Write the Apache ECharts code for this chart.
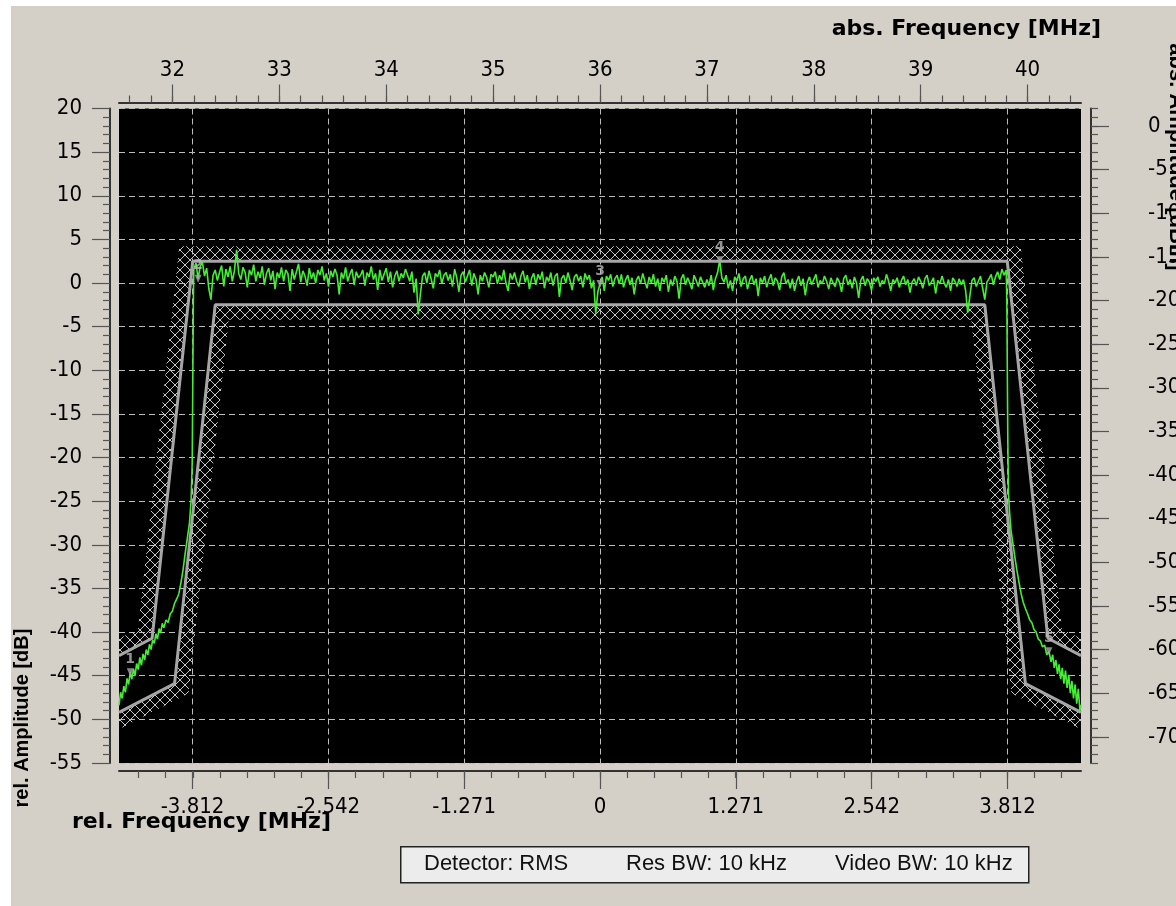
<!DOCTYPE html>
<html><head><meta charset="utf-8">
<script src="https://cdn.jsdelivr.net/npm/echarts@6/dist/echarts.min.js"></script>
<style>html,body{margin:0;padding:0;background:#d4d0c8;} #chart{width:1176px;height:906px;}</style>
</head><body><div id="chart"></div>
<script>
// ---------------- axis ranges & ticks ----------------
const relFreqRange = [-4.5, 4.5];          // MHz, bottom axis
const absFreqRange = [31.5, 40.5];         // MHz, top axis
const relAmpRange  = [-55, 20];            // dB, left axis
const absAmpRange  = [-73, 2];             // dBm, right axis

const relFreqTicks  = [-3.812, -2.542, -1.271, 0, 1.271, 2.542, 3.812];
const relFreqLabels = ['-3.812', '-2.542', '-1.271', '0', '1.271', '2.542', '3.812'];
const absFreqTicks  = [32, 33, 34, 35, 36, 37, 38, 39, 40];
const absFreqLabels = ['32', '33', '34', '35', '36', '37', '38', '39', '40'];
const absAmpTicks   = [-70, -65, -60, -55, -50, -45, -40, -35, -30, -25, -20, -15, -10, -5, 0];

// ---------------- tolerance masks (rel. MHz, dB) ----------------
const upperMaskFreq  = [-4.5, -4.19, -3.81, 3.81, 4.19, 4.5];
const upperMaskLevel = [-42.7, -40.7, 2.5, 2.5, -40.7, -42.7];
const lowerMaskFreq  = [-4.5, -3.98, -3.6, 3.6, 3.98, 4.5];
const lowerMaskLevel = [-49.2, -45.9, -2.5, -2.5, -45.9, -49.2];

// ---------------- measured trace (rel. MHz, dB) ----------------
const leftSkirt = [
  [-4.50,-48.4],[-4.485,-46.9],[-4.47,-47.6],[-4.455,-46.2],[-4.44,-46.9],[-4.425,-45.3],[-4.41,-46.0],
  [-4.395,-44.6],[-4.38,-45.4],[-4.365,-44.2],[-4.35,-45.0],[-4.335,-43.6],[-4.32,-44.3],[-4.305,-42.9],
  [-4.29,-43.8],[-4.275,-42.5],[-4.26,-43.2],[-4.245,-42.0],[-4.23,-42.6],[-4.215,-41.4],[-4.20,-42.0],
  [-4.185,-40.9],[-4.17,-41.3],[-4.155,-40.2],[-4.14,-40.8],[-4.125,-39.6],[-4.11,-40.1],[-4.095,-39.0],
  [-4.08,-39.5],[-4.06,-38.6],[-4.04,-38.9],[-4.02,-37.9],[-4.00,-37.6],[-3.98,-36.7],[-3.96,-36.2],
  [-3.94,-35.6],[-3.92,-34.3],[-3.90,-32.8],[-3.88,-30.9],[-3.86,-29.2],[-3.84,-27.4],[-3.825,-24.8],
  [-3.815,-20.5],[-3.81,-12.0],[-3.806,-5.0],[-3.803,-0.5]
];
const passband = [
  [-3.80,1.6],[-3.78,2.3],[-3.76,0.5],[-3.74,1.9],[-3.72,2.4],[-3.70,0.8],[-3.68,1.7],[-3.66,-0.6],[-3.64,-1.9],[-3.62,0.9],
  [-3.60,1.5],[-3.58,0.3],[-3.56,1.2],[-3.54,2.0],[-3.52,-0.4],[-3.50,1.6],[-3.48,0.7],[-3.46,1.9],[-3.44,0.2],[-3.42,1.4],
  [-3.40,3.8],[-3.38,1.1],[-3.36,0.4],[-3.34,1.8],[-3.32,1.2],[-3.30,-0.5],[-3.28,1.5],[-3.26,0.9],[-3.24,2.1],[-3.22,0.2],
  [-3.20,1.3],[-3.18,0.6],[-3.16,1.9],[-3.14,-0.2],[-3.12,1.1],[-3.10,1.7],[-3.08,0.3],[-3.06,1.4],[-3.04,-0.7],[-3.02,1.2],
  [-3.00,0.6],[-2.98,1.8],[-2.96,0.2],[-2.94,1.5],[-2.92,1.1],[-2.90,-0.9],[-2.88,1.6],[-2.86,0.4],[-2.84,1.3],[-2.82,2.2],
  [-2.80,0.1],[-2.78,1.4],[-2.76,0.8],[-2.74,-0.3],[-2.72,1.7],[-2.70,0.5],[-2.68,1.2],[-2.66,0.0],[-2.64,1.5],[-2.62,0.9],
  [-2.60,1.9],[-2.58,0.3],[-2.56,1.1],[-2.54,-0.4],[-2.52,1.4],[-2.50,0.7],[-2.48,1.6],[-2.46,0.9],[-2.44,-1.3],[-2.42,1.2],
  [-2.40,0.5],[-2.38,1.8],[-2.36,0.2],[-2.34,1.0],[-2.32,1.6],[-2.30,-0.2],[-2.28,1.3],[-2.26,0.6],[-2.24,0.9],[-2.22,1.5],
  [-2.20,-0.3],[-2.18,1.2],[-2.16,0.7],[-2.14,1.9],[-2.12,0.4],[-2.10,1.1],[-2.08,-0.8],[-2.06,1.5],[-2.04,0.3],[-2.02,1.0],
  [-2.00,1.7],[-1.98,0.1],[-1.96,1.3],[-1.94,-0.5],[-1.92,0.8],[-1.90,1.4],[-1.88,0.2],[-1.86,1.1],[-1.84,0.6],[-1.82,1.6],
  [-1.80,0.9],[-1.78,0.2],[-1.76,1.3],[-1.74,-1.1],[-1.72,0.5],[-1.70,-3.6],[-1.68,-1.2],[-1.66,0.8],[-1.64,1.2],[-1.62,0.0],
  [-1.60,1.4],[-1.58,0.5],[-1.56,-0.6],[-1.54,1.1],[-1.52,0.7],[-1.50,1.5],[-1.48,-0.1],[-1.46,0.9],[-1.44,1.2],[-1.42,0.3],
  [-1.40,1.0],[-1.38,-0.4],[-1.36,1.6],[-1.34,0.6],[-1.32,-1.0],[-1.30,0.9],[-1.28,1.3],[-1.26,0.1],[-1.24,0.8],[-1.22,1.5],
  [-1.20,-0.3],[-1.18,1.1],[-1.16,0.4],[-1.14,-1.3],[-1.12,0.9],[-1.10,0.2],[-1.08,1.2],[-1.06,0.6],[-1.04,-0.5],[-1.02,1.0],
  [-1.00,0.7],[-0.98,1.3],[-0.96,-0.1],[-0.94,0.9],[-0.92,0.3],[-0.90,1.5],[-0.88,0.0],[-0.86,-0.9],[-0.84,1.1],[-0.82,0.4],
  [-0.80,1.2],[-0.78,0.2],[-0.76,-0.4],[-0.74,0.8],[-0.72,1.4],[-0.70,0.1],[-0.68,0.9],[-0.66,-0.7],[-0.64,0.6],[-0.62,1.1],
  [-0.60,-0.2],[-0.58,1.0],[-0.56,0.4],[-0.54,1.3],[-0.52,-0.6],[-0.50,0.7],[-0.48,0.2],[-0.46,1.2],[-0.44,-0.3],[-0.42,0.8],
  [-0.40,1.1],[-0.38,-1.6],[-0.36,0.5],[-0.34,0.9],[-0.32,0.0],[-0.30,1.2],[-0.28,0.3],[-0.26,-0.8],[-0.24,0.7],[-0.22,1.0],
  [-0.20,0.2],[-0.18,0.8],[-0.16,-0.5],[-0.14,1.1],[-0.12,0.4],[-0.10,0.9],[-0.08,-0.6],[-0.06,0.3],[-0.04,-3.5],[-0.02,-1.0],
  [0.00,-0.1],[0.02,0.7],[0.04,-0.9],[0.06,0.8],[0.08,0.3],[0.10,1.0],[0.12,-0.4],[0.14,0.5],[0.16,0.9],[0.18,-0.1],
  [0.20,1.0],[0.22,-0.5],[0.24,0.4],[0.26,0.9],[0.28,-0.2],[0.30,0.6],[0.32,-1.3],[0.34,0.3],[0.36,0.8],[0.38,-0.1],
  [0.40,1.1],[0.42,0.2],[0.44,-0.6],[0.46,0.7],[0.48,0.0],[0.50,1.0],[0.52,-0.4],[0.54,0.5],[0.56,-0.9],[0.58,0.6],
  [0.60,0.1],[0.62,0.9],[0.64,-1.0],[0.66,0.4],[0.68,-0.3],[0.70,0.8],[0.72,0.2],[0.74,-1.8],[0.76,0.5],[0.78,1.0],
  [0.80,-0.2],[0.82,0.6],[0.84,0.0],[0.86,-0.7],[0.88,0.9],[0.90,0.3],[0.92,-0.4],[0.94,0.7],[0.96,0.1],[0.98,-0.5],
  [1.00,0.4],[1.02,-0.3],[1.04,0.9],[1.06,-0.8],[1.08,0.5],[1.10,1.2],[1.12,2.6],[1.14,0.6],[1.16,0.1],[1.18,0.9],
  [1.20,-0.6],[1.22,0.3],[1.24,-0.9],[1.26,0.7],[1.28,0.2],[1.30,1.1],[1.32,-0.4],[1.34,0.5],[1.36,0.8],[1.38,-0.7],
  [1.40,0.3],[1.42,0.9],[1.44,-0.2],[1.46,0.5],[1.48,-1.5],[1.50,0.6],[1.52,0.0],[1.54,0.8],[1.56,-0.5],[1.58,0.4],
  [1.60,1.0],[1.62,-0.3],[1.64,0.6],[1.66,0.2],[1.68,-0.8],[1.70,0.7],[1.72,1.2],[1.74,-0.1],[1.76,0.4],[1.78,-0.6],
  [1.80,0.5],[1.82,-0.9],[1.84,0.2],[1.86,0.8],[1.88,-0.3],[1.90,0.5],[1.92,-1.4],[1.94,0.1],[1.96,0.7],[1.98,-0.2],
  [2.00,0.4],[2.02,1.0],[2.04,-0.5],[2.06,0.3],[2.08,-0.1],[2.10,0.8],[2.12,0.2],[2.14,-0.7],[2.16,0.6],[2.18,0.0],
  [2.20,-0.4],[2.22,0.6],[2.24,0.1],[2.26,-1.0],[2.28,0.5],[2.30,0.9],[2.32,-0.2],[2.34,0.4],[2.36,-0.6],[2.38,0.7],
  [2.40,0.0],[2.42,-1.7],[2.44,0.3],[2.46,0.8],[2.48,-0.3],[2.50,0.5],[2.52,0.1],[2.54,-0.8],[2.56,0.6],[2.58,0.2],
  [2.60,0.7],[2.62,-0.4],[2.64,0.3],[2.66,-0.1],[2.68,1.0],[2.70,0.2],[2.72,-0.9],[2.74,0.4],[2.76,0.0],[2.78,0.6],
  [2.80,-0.5],[2.82,0.3],[2.84,0.8],[2.86,-0.2],[2.88,0.4],[2.90,-1.1],[2.92,0.1],[2.94,0.5],[2.96,-0.3],[2.98,0.7],
  [3.00,0.2],[3.02,-0.6],[3.04,0.5],[3.06,0.9],[3.08,-0.3],[3.10,0.1],[3.12,0.6],[3.14,-1.2],[3.16,0.3],[3.18,-0.1],
  [3.20,0.8],[3.22,0.0],[3.24,-0.5],[3.26,0.4],[3.28,-0.9],[3.30,0.6],[3.32,0.2],[3.34,-0.4],[3.36,0.5],[3.38,-0.2],
  [3.40,0.4],[3.42,-0.8],[3.44,-3.4],[3.46,-1.5],[3.48,0.3],[3.50,0.6],[3.52,-0.4],[3.54,0.2],[3.56,0.8],[3.58,-0.6],
  [3.60,-1.9],[3.62,0.1],[3.64,0.5],[3.66,1.0],[3.68,-0.2],[3.70,0.7],[3.72,1.3],[3.74,0.4],[3.76,1.6],[3.78,0.9],
  [3.80,1.5]
];
const rightSkirt = [
  [3.806,-2.0],[3.81,-9.0],[3.815,-17.5],[3.821,-24.0],[3.83,-26.0],[3.845,-28.3],[3.86,-29.6],[3.88,-31.3],
  [3.90,-32.9],[3.92,-34.3],[3.94,-35.6],[3.96,-36.6],[3.98,-37.3],[4.00,-37.9],[4.02,-38.6],[4.04,-38.9],
  [4.06,-39.7],[4.08,-40.0],[4.10,-40.8],[4.12,-41.0],[4.14,-41.7],[4.16,-41.5],[4.18,-42.6],[4.20,-42.2],
  [4.22,-43.4],[4.235,-42.6],[4.25,-44.1],[4.265,-43.2],[4.28,-44.8],[4.295,-43.7],[4.31,-45.4],[4.325,-44.1],
  [4.34,-45.9],[4.355,-44.4],[4.37,-46.4],[4.385,-44.9],[4.40,-47.0],[4.415,-45.6],[4.43,-47.6],[4.445,-46.0],
  [4.46,-48.2],[4.475,-46.5],[4.49,-49.0],[4.50,-48.3]
];

// ---------------- markers ----------------
const markerFreq  = [-4.395, -3.76, 0.00, 1.12, 4.20];
const markerLevel = [-44.6, 0.5, -0.1, 2.6, -42.2];
const markerNames = ['1', '2', '3', '4', '5'];

// ---------------- styles ----------------
const BG = '#d4d0c8';
const AXIS_COLOR = '#333333';
const TICK_FONT = "'Liberation Sans Narrow', 'Arial Narrow', 'DejaVu Sans Condensed', sans-serif";
const tickLabelStyle = { color: '#000', fontSize: 22, fontFamily: TICK_FONT };
const tickLine = { color: '#555', width: 1.2 };

function rangeStep(a, b, s) { const out = []; const n = Math.round((b - a) / s); for (let i = 0; i <= n; i++) out.push(+(a + i * s).toFixed(4)); return out; }
const relMinorStep = (relFreqTicks[1] - relFreqTicks[0]) / 5;
const relMinorTicks = rangeStep(-17 * relMinorStep, 17 * relMinorStep, relMinorStep);
const absMinorTicks = rangeStep(31.6, 40.4, 0.2);
const absAmpMinorTicks = rangeStep(absAmpRange[0], absAmpRange[1], 1);

function makeHatch() {
  const c = document.createElement('canvas'); c.width = 10; c.height = 10;
  const g = c.getContext('2d');
  g.strokeStyle = '#c4c4c4'; g.lineWidth = 1;
  g.beginPath(); g.moveTo(0, 0); g.lineTo(10, 10); g.moveTo(10, 0); g.lineTo(0, 10); g.stroke();
  return c;
}
const hatchPattern = { image: makeHatch(), repeat: 'repeat' };
const HATCH_W = 15;

function zip(a, b) { return a.map((v, i) => [v, b[i]]); }
const upperMask = zip(upperMaskFreq, upperMaskLevel);
const lowerMask = zip(lowerMaskFreq, lowerMaskLevel);

function hatchSeries(mask, side) {
  const sgn = side === 'up' ? 1 : -1;
  return {
    type: 'custom', xAxisIndex: 0, yAxisIndex: 0, clip: true, silent: true, z: 1,
    data: mask,
    renderItem: function (params, api) {
      if (params.dataIndex !== 0) return null;
      let pts = mask.map(p => api.coord(p));
      const ext = (p, q) => { const dx = p[0] - q[0], dy = p[1] - q[1], l = Math.hypot(dx, dy) || 1; return [p[0] + dx / l * 30, p[1] + dy / l * 30]; };
      pts = [ext(pts[0], pts[1])].concat(pts.slice(1, -1), [ext(pts[pts.length - 1], pts[pts.length - 2])]);
      const normals = [];
      for (let i = 0; i < pts.length - 1; i++) {
        const dx = pts[i + 1][0] - pts[i][0], dy = pts[i + 1][1] - pts[i][1];
        const l = Math.hypot(dx, dy) || 1;
        normals.push([sgn * dy / l, -sgn * dx / l]);
      }
      const outer = pts.map((p, i) => {
        const n1 = normals[Math.max(0, i - 1)], n2 = normals[Math.min(normals.length - 1, i)];
        let mx = n1[0] + n2[0], my = n1[1] + n2[1];
        const ml = Math.hypot(mx, my) || 1; mx /= ml; my /= ml;
        const d = HATCH_W / Math.max(0.3, mx * n1[0] + my * n1[1]);
        return [p[0] + mx * d, p[1] + my * d];
      });
      return { type: 'polygon', shape: { points: pts.concat(outer.reverse()) }, style: { fill: hatchPattern, stroke: null } };
    }
  };
}

const chart = echarts.init(document.getElementById('chart'), null, { renderer: 'canvas' });
const valueFmt = (ticks, labels) => v => { const i = ticks.findIndex(t => Math.abs(t - v) < 1e-6); return i >= 0 ? labels[i] : ''; };
const hiddenLine = { show: false, onZero: false };

const option = {
  backgroundColor: BG,
  animation: false,
  grid: { left: 119, top: 108.5, right: 95, bottom: 143, show: true, backgroundColor: '#000', borderWidth: 0, outerBoundsMode: 'none' },
  xAxis: [
    { type: 'value', position: 'bottom', min: relFreqRange[0], max: relFreqRange[1], offset: 8,
      axisLine: { show: true, onZero: false, lineStyle: { color: AXIS_COLOR, width: 2 } },
      axisTick: { show: true, customValues: relFreqTicks, length: 18, lineStyle: tickLine },
      axisLabel: Object.assign({ show: true, customValues: relFreqTicks, margin: 25, formatter: valueFmt(relFreqTicks, relFreqLabels) }, tickLabelStyle),
      splitLine: { show: true, lineStyle: { color: '#bdbdbd', width: 1, type: [6, 4] } } },
    { type: 'value', position: 'bottom', min: relFreqRange[0], max: relFreqRange[1], offset: 8,
      axisLine: hiddenLine, axisLabel: { show: false }, splitLine: { show: false },
      axisTick: { show: true, customValues: relMinorTicks, length: 7, lineStyle: tickLine } },
    { type: 'value', position: 'top', min: absFreqRange[0], max: absFreqRange[1], offset: 6,
      axisLine: { show: true, onZero: false, lineStyle: { color: AXIS_COLOR, width: 2 } },
      axisTick: { show: true, customValues: absFreqTicks, length: 18, lineStyle: tickLine },
      axisLabel: Object.assign({ show: true, customValues: absFreqTicks, margin: 21, formatter: valueFmt(absFreqTicks, absFreqLabels) }, tickLabelStyle),
      splitLine: { show: false } },
    { type: 'value', position: 'top', min: absFreqRange[0], max: absFreqRange[1], offset: 6,
      axisLine: hiddenLine, axisLabel: { show: false }, splitLine: { show: false },
      axisTick: { show: true, customValues: absMinorTicks, length: 7, lineStyle: tickLine } }
  ],
  yAxis: [
    { type: 'value', position: 'left', min: relAmpRange[0], max: relAmpRange[1], interval: 5, offset: 9,
      axisLine: { show: true, onZero: false, lineStyle: { color: AXIS_COLOR, width: 2 } },
      axisTick: { show: true, length: 18, lineStyle: tickLine },
      minorTick: { show: true, splitNumber: 5, length: 7, lineStyle: tickLine },
      axisLabel: Object.assign({ show: true, margin: 28 }, tickLabelStyle),
      splitLine: { show: true, lineStyle: { color: '#bdbdbd', width: 1, type: [6, 4] } } },
    { type: 'value', position: 'right', min: absAmpRange[0], max: absAmpRange[1], offset: 10,
      axisLine: { show: true, onZero: false, lineStyle: { color: AXIS_COLOR, width: 2 } },
      axisTick: { show: true, customValues: absAmpTicks, length: 18, lineStyle: tickLine },
      axisLabel: Object.assign({ show: true, customValues: absAmpTicks, margin: 57, align: 'left' }, tickLabelStyle),
      splitLine: { show: false } },
    { type: 'value', position: 'right', min: absAmpRange[0], max: absAmpRange[1], offset: 10,
      axisLine: hiddenLine, axisLabel: { show: false }, splitLine: { show: false },
      axisTick: { show: true, customValues: absAmpMinorTicks, length: 7, lineStyle: tickLine } }
  ],
  series: [
    hatchSeries(upperMask, 'up'),
    hatchSeries(lowerMask, 'down'),
    { type: 'line', name: 'upper mask', xAxisIndex: 0, yAxisIndex: 0, data: upperMask, symbol: 'none', z: 2, silent: true,
      lineStyle: { color: '#a6a6a6', width: 3 } },
    { type: 'line', name: 'lower mask', xAxisIndex: 0, yAxisIndex: 0, data: lowerMask, symbol: 'none', z: 2, silent: true,
      lineStyle: { color: '#a6a6a6', width: 3 } },
    { type: 'line', name: 'trace', xAxisIndex: 0, yAxisIndex: 0, data: leftSkirt.concat(passband, rightSkirt),
      symbol: 'none', z: 3, silent: true, clip: true, lineStyle: { color: '#44ee33', width: 1.6 } },
    { type: 'scatter', name: 'markers', xAxisIndex: 0, yAxisIndex: 0, z: 4, silent: true,
      data: markerFreq.map((f, i) => ({ value: [f, markerLevel[i]], label: { formatter: markerNames[i] } })),
      symbol: 'triangle', symbolRotate: 180, symbolSize: [7, 8], itemStyle: { color: '#a8a8a8' },
      label: { show: true, position: 'top', distance: 2, color: '#b8b8b8', fontSize: 14, fontWeight: 'bold', fontFamily: 'DejaVu Sans' } }
  ],
  graphic: [
    { type: 'rect', left: 0, top: 0, shape: { width: 1176, height: 6 }, style: { fill: '#ffffff' }, silent: true },
    { type: 'rect', left: 0, top: 0, shape: { width: 11, height: 906 }, style: { fill: '#ffffff' }, silent: true },
    { type: 'text', x: 1101, y: 29, silent: true,
      style: { text: 'abs. Frequency [MHz]', font: 'bold 22px "DejaVu Sans"', fill: '#000', textAlign: 'right', align: 'right', textVerticalAlign: 'middle', verticalAlign: 'middle' } },
    { type: 'text', x: 72, y: 822, silent: true,
      style: { text: 'rel. Frequency [MHz]', font: 'bold 22px "DejaVu Sans"', fill: '#000', textAlign: 'left', align: 'left', textVerticalAlign: 'middle', verticalAlign: 'middle' } },
    { type: 'text', x: 22, y: 718, rotation: Math.PI / 2, silent: true,
      style: { text: 'rel. Amplitude [dB]', font: 'bold 20px "Liberation Sans"', fill: '#000', textAlign: 'center', align: 'center', textVerticalAlign: 'middle', verticalAlign: 'middle' } },
    { type: 'text', x: 1176, y: 157, rotation: -Math.PI / 2, silent: true,
      style: { text: 'abs. Amplitude [dBm]', font: 'bold 22px "Liberation Sans"', fill: '#000', textAlign: 'center', align: 'center', textVerticalAlign: 'middle', verticalAlign: 'middle' } },
    { type: 'rect', left: 400, top: 846, shape: { x: 0, y: 0, width: 628, height: 36 }, silent: true,
      style: { fill: '#ececec', stroke: '#222', lineWidth: 1.5 } },
    { type: 'text', x: 424, y: 864, silent: true,
      style: { text: 'Detector: RMS', font: '22px "Liberation Sans"', fill: '#111', textAlign: 'left', align: 'left', textVerticalAlign: 'middle', verticalAlign: 'middle' } },
    { type: 'text', x: 626, y: 864, silent: true,
      style: { text: 'Res BW: 10 kHz', font: '22px "Liberation Sans"', fill: '#111', textAlign: 'left', align: 'left', textVerticalAlign: 'middle', verticalAlign: 'middle' } },
    { type: 'text', x: 835, y: 864, silent: true,
      style: { text: 'Video BW: 10 kHz', font: '22px "Liberation Sans"', fill: '#111', textAlign: 'left', align: 'left', textVerticalAlign: 'middle', verticalAlign: 'middle' } }
  ]
};
chart.setOption(option);
</script></body></html>
